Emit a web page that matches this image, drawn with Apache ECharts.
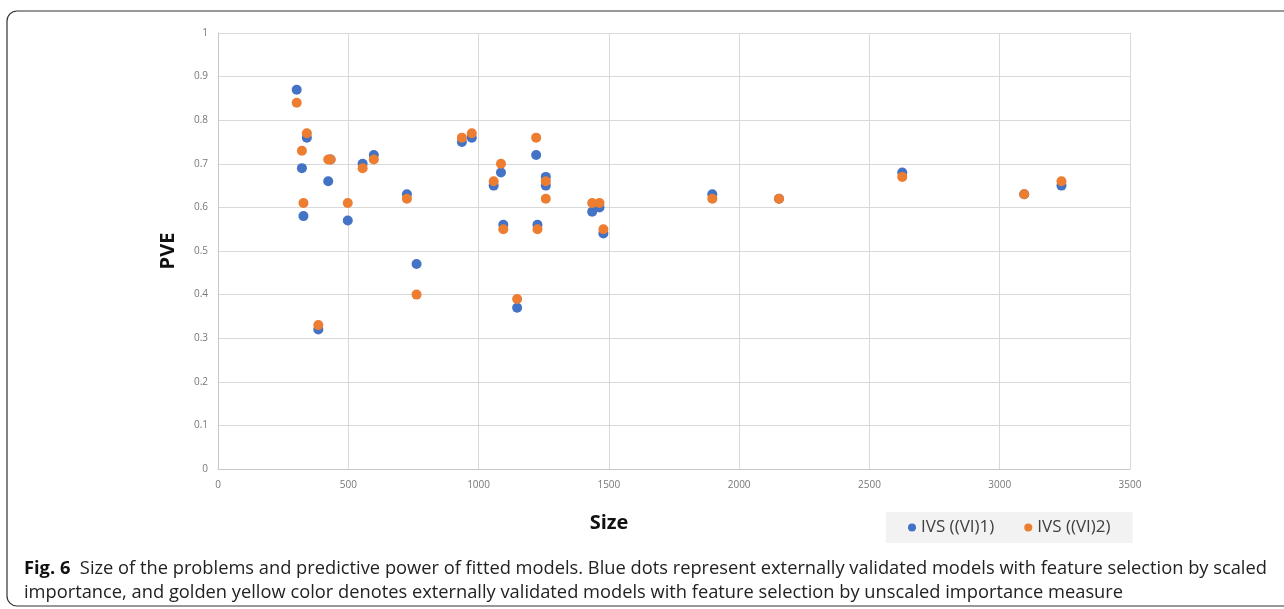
<!DOCTYPE html>
<html>
<head>
<meta charset="utf-8">
<script src="https://cdn.jsdelivr.net/npm/echarts@6/dist/echarts.min.js"></script>
<style>
  html, body { margin: 0; padding: 0; background: #fff; }
  #chart { width: 1284px; height: 609px; }
</style>
</head>
<body>
<div id="chart"></div>
<script>
// size of the problem (x) and PVE for the two feature-selection variants
var sizes = [302, 322, 328, 341, 385, 423, 432, 498, 555, 598, 725, 762, 936, 974, 1058,
             1086, 1095, 1148, 1221, 1226, 1258, 1258, 1436, 1464, 1479, 1897, 2153, 2626, 3094, 3237];
var pve1 = [0.87, 0.69, 0.58, 0.76, 0.32, 0.66, 0.71, 0.57, 0.70, 0.72, 0.63, 0.47, 0.75, 0.76, 0.65,
            0.68, 0.56, 0.37, 0.72, 0.56, 0.67, 0.65, 0.59, 0.60, 0.54, 0.63, 0.62, 0.68, 0.63, 0.65];
var pve2 = [0.84, 0.73, 0.61, 0.77, 0.33, 0.71, 0.71, 0.61, 0.69, 0.71, 0.62, 0.40, 0.76, 0.77, 0.66,
            0.70, 0.55, 0.39, 0.76, 0.55, 0.66, 0.62, 0.61, 0.61, 0.55, 0.62, 0.62, 0.67, 0.63, 0.66];
var seriesNames = ['IVS ((VI)1)', 'IVS ((VI)2)'];

var captionBold = 'Fig. 6';
var captionLine1 = 'Size of the problems and predictive power of fitted models. Blue dots represent externally validated models with feature selection by scaled';
var captionLine2 = 'importance, and golden yellow color denotes externally validated models with feature selection by unscaled importance measure';

function pairs(xs, ys) {
    return xs.map(function (x, i) { return [x, ys[i]]; });
}

var chart = echarts.init(document.getElementById('chart'));
var font = '"Open Sans", "Noto Sans", sans-serif';

chart.setOption({
    animation: false,
    textStyle: { fontFamily: font },
    color: ['#4472C4', '#ED7D31'],
    grid: { left: 218, right: 154, top: 33, bottom: 140 },
    legend: {
        data: seriesNames,
        left: 886,
        top: 512,
        icon: 'circle',
        itemWidth: 8,
        itemHeight: 8,
        itemGap: 30,
        padding: [7, 22, 7, 22],
        backgroundColor: '#f2f2f2',
        textStyle: { fontSize: 17, color: '#404040', fontFamily: font }
    },
    xAxis: {
        type: 'value',
        min: 0,
        max: 3500,
        interval: 500,
        name: 'Size',
        nameLocation: 'middle',
        nameGap: 44,
        nameTextStyle: { fontSize: 20, fontWeight: 'bold', color: '#111', padding: [0, 130, 0, 0] },
        axisLine: { show: true, lineStyle: { color: '#c8c8c8' } },
        axisTick: { show: false },
        splitLine: { lineStyle: { color: '#d9d9d9' } },
        axisLabel: { fontSize: 10, color: '#777', margin: 11, formatter: function (v) { return String(v); } }
    },
    yAxis: {
        type: 'value',
        min: 0,
        max: 1,
        interval: 0.1,
        name: 'PVE',
        nameLocation: 'middle',
        nameGap: 40,
        nameTextStyle: { fontSize: 20, fontWeight: 'bold', color: '#111' },
        axisLine: { show: true, lineStyle: { color: '#c8c8c8' } },
        axisTick: { show: false },
        splitLine: { lineStyle: { color: '#d9d9d9' } },
        axisLabel: { fontSize: 10, color: '#777', margin: 10 }
    },
    series: [{
        name: seriesNames[0],
        type: 'scatter',
        symbolSize: 10,
        itemStyle: { opacity: 1 },
        data: pairs(sizes, pve1)
    }, {
        name: seriesNames[1],
        type: 'scatter',
        symbolSize: 10,
        itemStyle: { opacity: 1 },
        data: pairs(sizes, pve2)
    }],
    graphic: [{
        type: 'rect',
        shape: { x: 7, y: 11, width: 1300, height: 595, r: 10 },
        style: { fill: 'none', stroke: '#333', lineWidth: 1.2 },
        silent: true
    }, {
        type: 'text',
        left: 24,
        top: 557,
        style: {
            text: '{b|' + captionBold + '}  ' + captionLine1 + '\n' + captionLine2,
            font: '18.3px ' + font,
            fill: '#222',
            lineHeight: 24,
            rich: {
                b: { fontWeight: 'bold', fontSize: 18.3, fill: '#111', fontFamily: font }
            }
        }
    }]
});
</script>
</body>
</html>
